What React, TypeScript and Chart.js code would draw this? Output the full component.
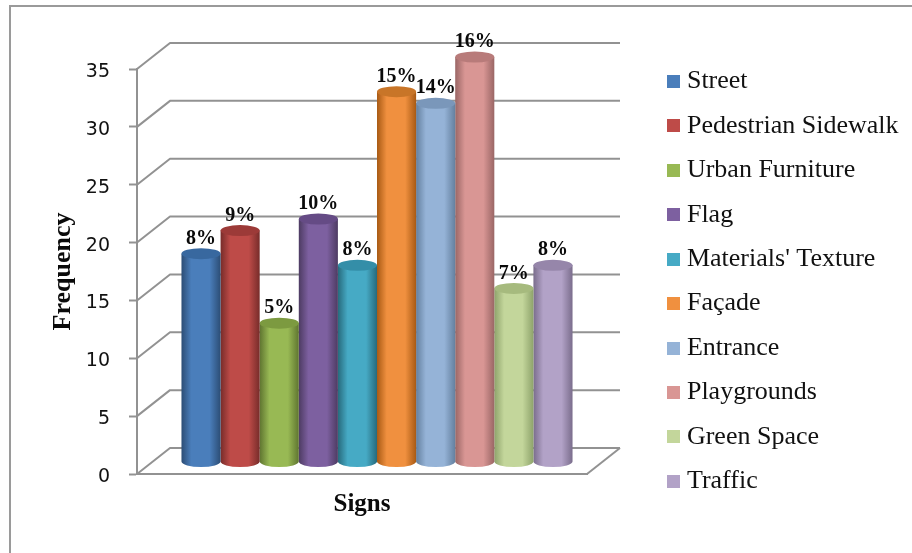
import React, { useEffect, useRef } from "react";
import { Chart, registerables } from "chart.js";

Chart.register(...registerables);

const seriesNames = ["Street", "Pedestrian Sidewalk", "Urban Furniture", "Flag", "Materials' Texture", "Façade", "Entrance", "Playgrounds", "Green Space", "Traffic"];
const seriesValues = [18, 20, 12, 21, 17, 32, 31, 35, 15, 17];
const percentLabels = ["8%", "9%", "5%", "10%", "8%", "15%", "14%", "16%", "7%", "8%"];
const mainColors = ["#4a7ebb", "#be4b48", "#98b954", "#7d60a0", "#46aac5", "#f0903f", "#95b3d7", "#d99694", "#c3d69b", "#b2a2c7"];
const edgeColors = ["#2c4d75", "#772c2a", "#5f7530", "#4d3b62", "#276a7c", "#a85a14", "#64809f", "#9a6665", "#8ea36b", "#7a6d8c"];
const topColors = ["#38689f", "#9c3a38", "#7c9a40", "#654b85", "#348ea8", "#c87528", "#7a97ba", "#b87b7a", "#a6ba7e", "#9686aa"];
const categories = ["Signs"];
const yTicks = { min: 0, max: 35, step: 5 };

const SERIF = '"Liberation Serif"';
const GRAY = "#929292";
const DEPTH_X = 33;
const DEPTH_Y = 26;
const BAR_SHIFT_X = 15;
const BAR_SHIFT_Y = -12;
const RY = 5.5;

function swatch(color: string) {
  const c = document.createElement("canvas");
  c.width = 13;
  c.height = 13;
  const g = c.getContext("2d")!;
  g.fillStyle = color;
  g.fillRect(0, 0, 13, 13);
  return c;
}

const pseudo3d = {
  id: "pseudo3d",
  beforeLayout(chart: any) {
    const lg = chart.legend;
    if (lg && !lg.__patched) {
      lg.__patched = true;
      const fit = lg.fit;
      lg.fit = function () {
        this.maxHeight = 553;
        this.maxWidth = 300;
        fit.call(this);
        this.width = 265;
      };
    }
  },
  afterLayout(chart: any) {
    const lg = chart.legend;
    lg.left = 654.5;
    lg.right = 912;
    lg.top = 50;
    lg.bottom = 553;
  },
  beforeDraw(chart: any) {
    const y = chart.scales.y;
    const items = y.getLabelItems(chart.chartArea);
    if (!items.__shifted) {
      items.__shifted = true;
      items.forEach((it: any) => {
        it.options.translation = [it.options.translation[0], it.options.translation[1] + 3];
      });
    }
  },
  beforeDatasetsDraw(chart: any) {
    const { ctx, scales } = chart;
    const y = scales.y;
    const x = scales.x;
    ctx.save();
    ctx.strokeStyle = GRAY;
    ctx.lineWidth = 2;
    ctx.lineJoin = "round";
    y.ticks.forEach((t: any) => {
      const py = y.getPixelForValue(t.value);
      ctx.beginPath();
      ctx.moveTo(x.left, py);
      ctx.lineTo(x.left + DEPTH_X, py - DEPTH_Y);
      ctx.lineTo(x.right + DEPTH_X, py - DEPTH_Y);
      ctx.stroke();
    });
    const base = y.getPixelForValue(0);
    ctx.beginPath();
    ctx.moveTo(x.right, base);
    ctx.lineTo(x.right + DEPTH_X, base - DEPTH_Y);
    ctx.stroke();
    ctx.restore();
  },
  beforeDatasetDraw(chart: any, args: any) {
    const { ctx } = chart;
    const i = args.index;
    const bar = args.meta.data[0];
    const cx = bar.x + BAR_SHIFT_X;
    const rx = bar.width / 2;
    const top = bar.y + BAR_SHIFT_Y;
    const bottom = bar.base + BAR_SHIFT_Y;
    const grad = ctx.createLinearGradient(cx - rx, 0, cx + rx, 0);
    grad.addColorStop(0, edgeColors[i]);
    grad.addColorStop(0.25, mainColors[i]);
    grad.addColorStop(0.72, mainColors[i]);
    grad.addColorStop(1, edgeColors[i]);
    ctx.save();
    ctx.fillStyle = grad;
    ctx.beginPath();
    ctx.moveTo(cx - rx, top);
    ctx.lineTo(cx - rx, bottom);
    ctx.ellipse(cx, bottom, rx, RY, 0, Math.PI, 0, true);
    ctx.lineTo(cx + rx, top);
    ctx.closePath();
    ctx.fill();
    ctx.fillStyle = topColors[i];
    ctx.beginPath();
    ctx.ellipse(cx, top, rx, RY, 0, 0, Math.PI * 2);
    ctx.fill();
    ctx.restore();
    return false;
  },
  afterDatasetsDraw(chart: any) {
    const { ctx } = chart;
    ctx.save();
    ctx.font = `bold 20px ${SERIF}`;
    ctx.fillStyle = "#0a0a0a";
    ctx.textAlign = "center";
    ctx.textBaseline = "middle";
    percentLabels.forEach((label, i) => {
      const bar = chart.getDatasetMeta(i).data[0];
      ctx.fillText(label, bar.x + BAR_SHIFT_X, bar.y + BAR_SHIFT_Y - 15);
    });
    ctx.restore();
  },
};

export default function App() {
  const ref = useRef<HTMLCanvasElement | null>(null);
  useEffect(() => {
    const chart = new Chart(ref.current!, {
      type: "bar",
      data: {
        labels: categories,
        datasets: seriesNames.map((name, i) => ({
          label: name,
          data: [seriesValues[i]],
          backgroundColor: mainColors[i],
          categoryPercentage: 0.869,
          barPercentage: 1,
        })),
      },
      options: {
        animation: false,
        responsive: false,
        devicePixelRatio: 1,
        layout: { padding: { left: 48, top: 69, right: 60, bottom: 33 } },
        plugins: {
          tooltip: { enabled: false },
          legend: {
            position: "right",
            align: "start",
            labels: {
              color: "#111111",
              font: { family: SERIF, size: 26 },
              usePointStyle: true,
              boxWidth: 1,
              boxHeight: 13,
              padding: 18.44,
              generateLabels: (chart: any) =>
                Chart.defaults.plugins.legend.labels.generateLabels(chart).map((item: any, i: number) => ({
                  ...item,
                  pointStyle: swatch(mainColors[i]),
                })),
            },
          },
        },
        scales: {
          x: {
            grid: { display: false, drawTicks: false },
            ticks: { display: false },
            border: { color: GRAY, width: 2 },
            title: { display: true, text: "Signs", color: "#0a0a0a", font: { family: SERIF, size: 25, weight: "bold" }, padding: 0 },
            afterFit: (s: any) => { s.height = 46; },
          },
          y: {
            min: yTicks.min,
            max: yTicks.max,
            ticks: { stepSize: yTicks.step, padding: 19, color: "#111111", font: { family: '"DejaVu Sans"', size: 19 } },
            grid: { drawOnChartArea: false, color: GRAY, tickLength: 8, tickWidth: 2 },
            border: { color: GRAY, width: 2 },
            title: { display: true, text: "Frequency", color: "#0a0a0a", font: { family: SERIF, size: 26, weight: "bold" }, padding: 0 },
            afterFit: (s: any) => { s.width = 89; },
          },
        },
      } as any,
      plugins: [pseudo3d],
    });
    return () => chart.destroy();
  }, []);
  return (
    <div style={{ position: "absolute", left: 0, top: 0, width: 912, height: 553, background: "#fff", overflow: "hidden" }}>
      <div style={{ position: "absolute", left: 9, top: 5, width: 903, height: 548, borderLeft: "2px solid #9a9a9a", borderTop: "2px solid #9a9a9a", boxSizing: "border-box" }} />
      <canvas ref={ref} width={912} height={553} style={{ position: "absolute", left: 0, top: 0, display: "block" }} />
    </div>
  );
}
